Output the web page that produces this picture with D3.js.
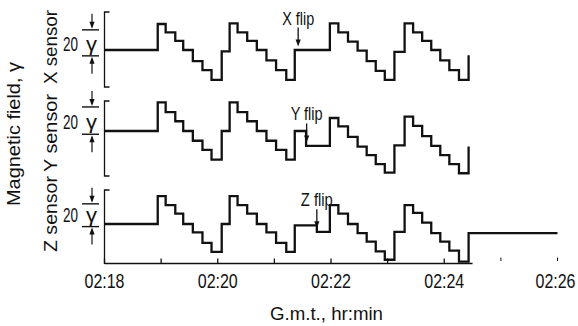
<!DOCTYPE html>
<html><head><meta charset="utf-8">
<script src="https://cdn.jsdelivr.net/npm/d3@7"></script>
<style>body{margin:0;background:#fff}svg{display:block}</style>
</head><body><svg id="c" width="578" height="326"></svg>
<script>
// ---- data (time in minutes after 02:18, field in gamma relative to each sensor's baseline) ----
const tickMinutes = [0, 1, 2, 3, 4, 5, 6, 7, 8];
const tickLabels = ["02:18", "", "02:20", "", "02:22", "", "02:24", "", "02:26"];
const sensorNames = ["X sensor", "Y sensor", "Z sensor"];
const flipLabels = ["X flip", "Y flip", "Z flip"];
const flipTimes = [3.42, 3.57, 3.75];
const scaleLabel = "20";
const gammaLabel = "γ";

const xTimes = [0, 0.94, 1.08, 1.25, 1.39, 1.56, 1.73, 1.89, 2.07, 2.21, 2.35, 2.52, 2.69, 2.86, 3.03, 3.21, 3.36,
  3.98, 4.13, 4.30, 4.47, 4.63, 4.79, 4.95, 5.12, 5.30, 5.45, 5.61, 5.77, 5.93, 6.09, 6.26, 6.43];
const xValues = [0, 20, 13.5, 7, 0, -8.5, -15.5, -23, -1, 20.5, 13.5, 7, 0, -8, -15.5, -23, 0,
  20.5, 13.5, 6.5, -0.5, -8.5, -16, -23, -1.5, 20.5, 13.5, 7, 0, -8, -15.5, -23, -4];

const yTimes = [0, 0.94, 1.08, 1.25, 1.39, 1.56, 1.73, 1.89, 2.07, 2.21, 2.35, 2.52, 2.69, 2.86, 3.03, 3.21, 3.36, 3.56,
  3.98, 4.13, 4.30, 4.47, 4.63, 4.79, 4.95, 5.12, 5.30, 5.45, 5.61, 5.77, 5.93, 6.09, 6.26, 6.43];
const yValues = [0, 22, 14.5, 7.5, 0, -7.5, -14.5, -22, 0, 22, 14.5, 7.5, 0, -7.5, -14.5, -22, 0, -11.5,
  10, 3.5, -4.5, -12, -18.5, -25.5, -32, -11, 11, 4, -4, -11.5, -18.5, -25.5, -32.5, -12];

const zTimes = [0, 0.94, 1.08, 1.25, 1.39, 1.56, 1.73, 1.89, 2.07, 2.21, 2.35, 2.52, 2.69, 2.86, 3.03, 3.21, 3.36, 3.75,
  3.98, 4.13, 4.30, 4.47, 4.63, 4.79, 4.95, 5.12, 5.30, 5.45, 5.61, 5.77, 5.93, 6.09, 6.26, 6.43, 8.0];
const zValues = [0, 21.5, 14.5, 8, 0, -6.5, -14.5, -21.5, 0, 21.5, 14.5, 8, 0, -6.5, -14.5, -21.5, -1, -6,
  14.5, 8, 0, -7, -13.5, -21, -27.5, -6, 14.5, 8.5, 1, -7, -13.5, -20.5, -29, -7, -7];

// ---- layout ----
const FONT = "'Liberation Sans','Arial',sans-serif";
const svg = d3.select("#c");
const x = d3.scaleLinear().domain([0, 8]).range([104.5, 557.5]);
const axisY = 263.5;

const panels = [
  {times: xTimes, values: xValues, base: 50, top: 12, bottom: 87, bar: [15.5, -4.5], labelLen: 74, labelC: 47},
  {times: yTimes, values: yValues, base: 131, top: 101, bottom: 176, bar: [18.5, -2.5], labelLen: 78, labelC: 133},
  {times: zTimes, values: zValues, base: 224, top: 190, bottom: axisY, bar: [15.5, -2], labelLen: 76, labelC: 214}
];

const ink = "#111";

function txt(sel, len) {
  return sel.attr("font-family", FONT).attr("fill", ink)
    .attr("textLength", len).attr("lengthAdjust", "spacingAndGlyphs");
}

function arrowHead(g, xx, yy, dir) { // dir: +1 points down, -1 points up
  g.append("path")
    .attr("d", `M${xx},${yy} L${xx - 2.6},${yy - dir * 7} L${xx + 2.6},${yy - dir * 7} Z`)
    .attr("fill", ink);
}

panels.forEach((p, i) => {
  const y = d3.scaleLinear().domain([0, 20]).range([p.base, p.base - 26]);
  const g = svg.append("g");

  // bracket (left frame)
  const bx = x(0);
  g.append("path")
    .attr("d", i < 2
      ? `M${bx + 5},${p.top} H${bx} V${p.bottom} H${bx + 5}`
      : `M${bx + 5},${p.top} H${bx} V${p.bottom}`)
    .attr("fill", "none").attr("stroke", ink).attr("stroke-width", 1.3);

  // trace
  const pts = p.times.map((t, k) => [t, p.values[k]]);
  g.append("path")
    .datum(pts)
    .attr("d", d3.line().x(d => x(d[0])).y(d => y(d[1])).curve(d3.curveStepAfter))
    .attr("fill", "none").attr("stroke", ink).attr("stroke-width", 2.3)
    .attr("stroke-linejoin", "miter");

  // 20 gamma scale indicator
  const yu = y(p.bar[0]), yl = y(p.bar[1]);
  g.append("line").attr("x1", 82).attr("x2", 99).attr("y1", yu).attr("y2", yu)
    .attr("stroke", ink).attr("stroke-width", 1.4);
  g.append("line").attr("x1", 82).attr("x2", 99).attr("y1", yl).attr("y2", yl)
    .attr("stroke", ink).attr("stroke-width", 1.4);
  g.append("line").attr("x1", 92).attr("x2", 92).attr("y1", yu - 16).attr("y2", yu - 3)
    .attr("stroke", ink).attr("stroke-width", 1.2);
  arrowHead(g, 92, yu - 1, 1);
  g.append("line").attr("x1", 92).attr("x2", 92).attr("y1", yl + 18).attr("y2", yl + 3)
    .attr("stroke", ink).attr("stroke-width", 1.2);
  arrowHead(g, 92, yl + 1, -1);
  txt(g.append("text").attr("x", 63).attr("y", yl - 5).attr("font-size", 20), 15).text(scaleLabel);
  txt(g.append("text").attr("x", 86).attr("y", yl - 5).attr("font-size", 20), 11).text(gammaLabel);

  // sensor label
  txt(g.append("text")
    .attr("transform", `translate(57,${p.labelC}) rotate(-90)`)
    .attr("x", -p.labelLen / 2)
    .attr("font-size", 19), p.labelLen)
    .text(sensorNames[i]);

  // flip annotation
  const ft = flipTimes[i];
  const idx = d3.bisectRight(p.times, ft) - 1;
  const fv = p.values[idx];
  const tipY = y(fv) - 3.5;
  const fx = x(ft);
  g.append("line").attr("x1", fx).attr("x2", fx).attr("y1", tipY - 19).attr("y2", tipY - 5)
    .attr("stroke", ink).attr("stroke-width", 1.3);
  arrowHead(g, fx, tipY, 1);
  txt(g.append("text").attr("x", fx - 16).attr("y", tipY - 22).attr("font-size", 19), 32)
    .text(flipLabels[i]);
});

// x axis
const ax = svg.append("g");
ax.append("line").attr("x1", x(0)).attr("x2", x(6.5)).attr("y1", axisY).attr("y2", axisY)
  .attr("stroke", ink).attr("stroke-width", 1.5);
ax.selectAll("line.tk").data(tickMinutes).join("line").attr("class", "tk")
  .attr("x1", d => x(d)).attr("x2", d => x(d))
  .attr("y1", d => d > 6.5 ? axisY - 6 : axisY - 5)
  .attr("y2", d => d > 6.5 ? axisY - 2.5 : axisY + 0.5)
  .attr("stroke", ink).attr("stroke-width", d => d > 6.5 ? 1 : 1.3);
const labelled = tickMinutes.filter((d, k) => tickLabels[k] !== "");
ax.selectAll("text.tl").data(labelled).join("text").attr("class", "tl")
  .attr("transform", d => `translate(${Math.min(x(d), 555.5)},287.5) scale(0.8,1)`)
  .attr("text-anchor", "middle")
  .attr("font-family", FONT).attr("fill", ink)
  .attr("font-size", 20)
  .text(d => tickLabels[tickMinutes.indexOf(d)]);

txt(svg.append("text").attr("x", 270).attr("y", 320).attr("font-size", 19), 113)
  .text("G.m.t., hr:min");

txt(svg.append("text")
  .attr("transform", "translate(20,134) rotate(-90)")
  .attr("x", -72)
  .attr("font-size", 18.5), 144)
  .text("Magnetic field, γ");
</script></body></html>
